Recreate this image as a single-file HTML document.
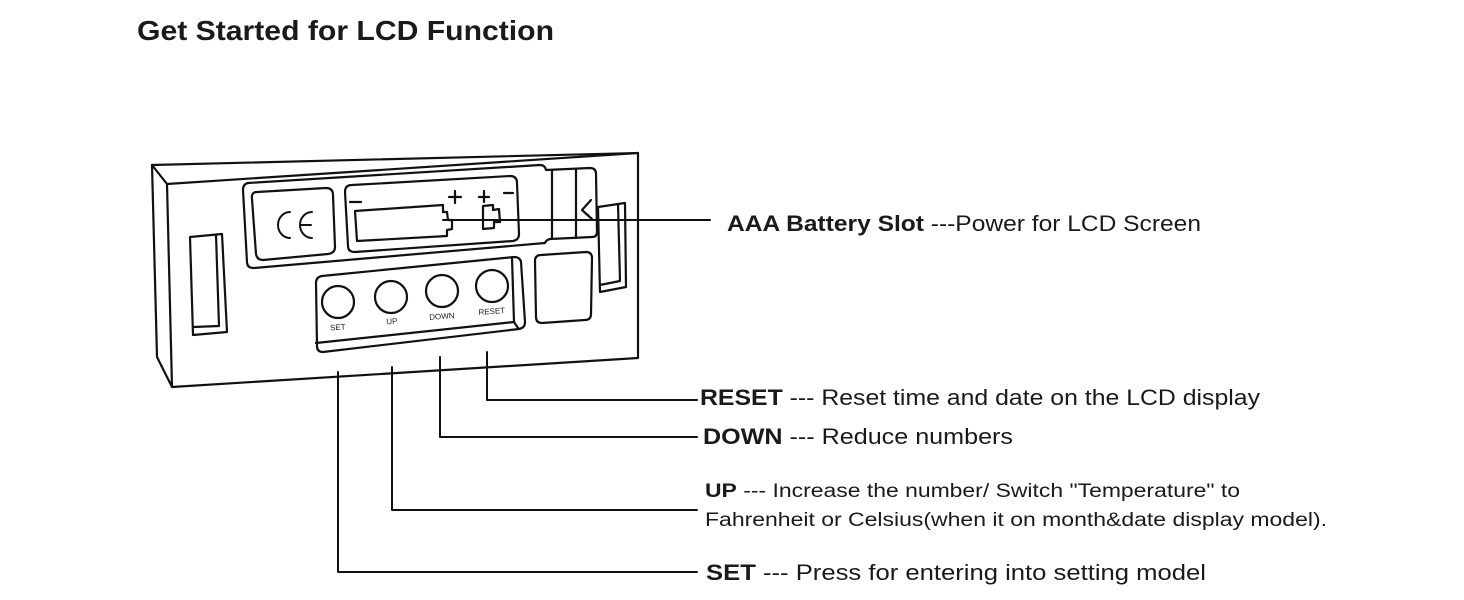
<!DOCTYPE html>
<html><head><meta charset="utf-8"><style>
html,body{margin:0;padding:0;background:#fff;width:1464px;height:600px;overflow:hidden}
svg{display:block}
text{font-family:"Liberation Sans",sans-serif;fill:#1a1a1a}
</style></head><body>
<svg width="1464" height="600" viewBox="0 0 1464 600" xmlns="http://www.w3.org/2000/svg">
<text x="137" y="40" font-size="28" font-weight="bold" textLength="417" lengthAdjust="spacingAndGlyphs">Get Started for LCD Function</text>

<g fill="none" stroke="#111" stroke-width="2.2" stroke-linejoin="round" stroke-linecap="round">
  <polygon points="152,165 638,153 638,358 172,387 157,357"/>
  <line x1="152" y1="165" x2="167" y2="184"/>
  <line x1="167" y1="184" x2="638" y2="153"/>
  <line x1="167" y1="184" x2="172" y2="387"/>
  <path d="M248,183 L540,165 Q545,165 546,170 L590,168 Q596,168 596,174 L597,232 Q597,237 592,237 L550,239 Q546,240 545,243 L254,268 Q247,268 247,262 L243,190 Q243,184 248,183 Z"/>
  <path d="M257,192 L326,188 Q333,188 333,195 L335,247 Q335,253 328,254 L263,260 Q257,260 256,254 L252,199 Q251,192 257,192 Z"/>
  <!-- CE mark -->
  <path d="M290,212 A12,13 0 1 0 290,238" stroke-width="2"/>
  <path d="M312,212 A12,13 0 1 0 312,238" stroke-width="2"/>
  <line x1="300" y1="225" x2="311" y2="225" stroke-width="2"/>
  <path d="M352,185 L510,176 Q517,176 517,183 L519,234 Q519,240 513,241 L355,252 Q348,252 348,246 L345,192 Q345,185 352,185 Z"/>
  <path d="M355,211 L443,205 L443,212 L447,212 L448,220 L452,220 L452,229 L447,230 L447,236 L357,241 Z"/>
  <line x1="350" y1="202" x2="361" y2="202"/>
  <line x1="449" y1="197" x2="461" y2="197"/><line x1="455" y1="191" x2="455" y2="203"/>
  <line x1="479" y1="197" x2="489" y2="197"/><line x1="484" y1="191" x2="484" y2="202"/>
  <line x1="504" y1="193" x2="513" y2="193"/>
  <path d="M483,206 L493,205 L493,210 L499,209 L500,222 L494,222 L494,228 L483,229 Z"/>
  <line x1="552" y1="171" x2="552" y2="238"/>
  <line x1="576" y1="170" x2="576" y2="238"/>
  <polyline points="591,200 582,210 592,219"/>
  <polygon points="190,237 222,234 227,332 193,335"/>
  <polyline points="216,235 219,326 193,327"/>
  <polygon points="598,207 625,203 626,287 600,292"/>
  <polyline points="618,204 620,281 600,285"/>
  <path d="M322,276 L514,257 Q520,257 521,262 L525,322 Q525,328 519,329 L323,352 Q317,352 317,346 L316,283 Q316,277 322,276 Z"/>
  <polyline points="316,343 514,322 518,328"/>
  <line x1="514" y1="322" x2="512" y2="258"/>
  <path d="M541,255 L586,252 Q592,252 592,258 L591,314 Q591,320 585,320 L542,323 Q536,323 536,317 L535,261 Q535,255 541,255 Z"/>
  <circle cx="338" cy="302" r="16"/>
  <circle cx="391" cy="297" r="16"/>
  <circle cx="442" cy="291" r="16"/>
  <circle cx="492" cy="286" r="16"/>
  <polyline points="443,220 710,220" stroke-width="2"/>
  <polyline points="487,352 487,400 697,400" stroke-width="2"/>
  <polyline points="440,357 440,437 697,437" stroke-width="2"/>
  <polyline points="392,367 392,510 697,510" stroke-width="2"/>
  <polyline points="338,372 338,572 697,572" stroke-width="2"/>
</g>
<g font-size="8" text-anchor="middle">
  <text x="338" y="330" transform="rotate(-4 338 330)">SET</text>
  <text x="392" y="324" transform="rotate(-4 392 324)">UP</text>
  <text x="442" y="319" transform="rotate(-4 442 319)">DOWN</text>
  <text x="492" y="314" transform="rotate(-4 492 314)">RESET</text>
</g>

<text x="727" y="231" font-size="22" textLength="474" lengthAdjust="spacingAndGlyphs"><tspan font-weight="bold">AAA Battery Slot</tspan> ---Power for LCD Screen</text>
<text x="700" y="405" font-size="22" textLength="560" lengthAdjust="spacingAndGlyphs"><tspan font-weight="bold">RESET</tspan> ---  Reset time and date on the LCD display</text>
<text x="703" y="444" font-size="22" textLength="310" lengthAdjust="spacingAndGlyphs"><tspan font-weight="bold">DOWN</tspan> --- Reduce numbers</text>
<text x="705" y="497" font-size="19" textLength="535" lengthAdjust="spacingAndGlyphs"><tspan font-weight="bold">UP</tspan> --- Increase the number/ Switch "Temperature" to</text>
<text x="705" y="526" font-size="19" textLength="622" lengthAdjust="spacingAndGlyphs">Fahrenheit or Celsius(when it on month&amp;date display model).</text>
<text x="706" y="580" font-size="22" textLength="500" lengthAdjust="spacingAndGlyphs"><tspan font-weight="bold">SET</tspan> --- Press for entering into setting model</text>
</svg>
</body></html>
